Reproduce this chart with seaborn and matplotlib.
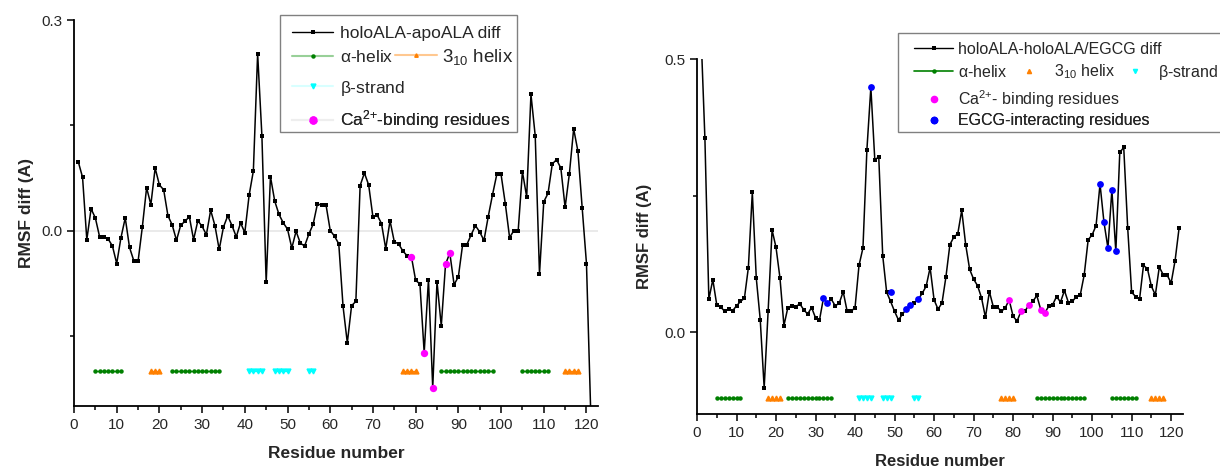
import numpy as np
import pandas as pd
import matplotlib
matplotlib.use('Agg')
import matplotlib.pyplot as plt
from matplotlib.lines import Line2D
from matplotlib.patches import Rectangle
from matplotlib.ticker import MultipleLocator, FormatStrFormatter
import seaborn as sns

# RMSF differences per residue
apo_diff = [0.098, 0.076, -0.013, 0.031, 0.018, -0.009, -0.009, -0.012, -0.022, -0.047,
            -0.010, 0.018, -0.024, -0.043, -0.044, 0.005, 0.061, 0.037, 0.089, 0.065,
            0.058, 0.021, 0.008, -0.014, 0.008, 0.013, 0.020, -0.013, 0.014, 0.006,
            -0.006, 0.029, 0.007, -0.027, 0.005, 0.021, 0.007, -0.009, 0.011, -0.003,
            0.050, 0.085, 0.252, 0.135, -0.074, 0.077, 0.042, 0.023, 0.011, 0.002,
            -0.025, -0.001, -0.018, -0.022, -0.005, 0.009, 0.038, 0.036, 0.037, 0.000,
            -0.008, -0.019, -0.108, -0.160, -0.107, -0.101, 0.064, 0.082, 0.065, 0.019,
            0.022, 0.010, -0.026, 0.014, -0.016, -0.019, -0.029, -0.036, -0.037, -0.071,
            -0.076, -0.174, -0.070, -0.224, -0.073, -0.136, -0.048, -0.032, -0.077, -0.066,
            -0.020, -0.020, -0.006, 0.007, -0.002, -0.014, 0.020, 0.051, 0.080, 0.080,
            0.038, -0.010, 0.000, -0.001, 0.084, 0.048, 0.194, 0.135, -0.062, 0.041,
            0.053, 0.095, 0.101, 0.089, 0.033, 0.081, 0.145, 0.113, 0.032, -0.047,
            -0.260]
egcg_diff = [0.550, 0.355, 0.060, 0.096, 0.050, 0.046, 0.038, 0.042, 0.039, 0.048,
             0.056, 0.062, 0.118, 0.256, 0.099, 0.023, -0.102, 0.038, 0.187, 0.155,
             0.099, 0.012, 0.045, 0.048, 0.046, 0.052, 0.041, 0.033, 0.045, 0.026,
             0.022, 0.062, 0.053, 0.060, 0.048, 0.053, 0.074, 0.038, 0.038, 0.045,
             0.122, 0.154, 0.334, 0.448, 0.315, 0.321, 0.140, 0.073, 0.056, 0.038,
             0.022, 0.033, 0.042, 0.049, 0.054, 0.060, 0.071, 0.084, 0.118, 0.059,
             0.042, 0.053, 0.101, 0.160, 0.174, 0.180, 0.223, 0.160, 0.115, 0.097,
             0.085, 0.063, 0.027, 0.074, 0.046, 0.046, 0.038, 0.044, 0.059, 0.029,
             0.020, 0.038, 0.038, 0.050, 0.056, 0.067, 0.041, 0.035, 0.047, 0.050,
             0.065, 0.055, 0.076, 0.054, 0.056, 0.065, 0.068, 0.105, 0.169, 0.178,
             0.195, 0.271, 0.201, 0.154, 0.260, 0.148, 0.329, 0.338, 0.191, 0.073,
             0.065, 0.060, 0.122, 0.116, 0.084, 0.068, 0.119, 0.105, 0.104, 0.090,
             0.131, 0.190]

# secondary structure (residue ranges)
helix_a = [(5, 11), (23, 34), (86, 98), (105, 111)]
helix_310_left = [(18, 20), (77, 80), (115, 118)]
helix_310_right = [(18, 21), (77, 80), (115, 118)]
strand_b = [(41, 44), (47, 50), (55, 56)]
strand_b_right = [(41, 44), (47, 49), (55, 56)]
ss_level_left = -0.20
ss_level_right = -0.121

ca_res = [79, 82, 84, 87, 88]
egcg_res = [32, 33, 44, 49, 53, 54, 56, 102, 103, 104, 105, 106]
egcg_vals = [0.062, 0.053, 0.448, 0.073, 0.042, 0.049, 0.060, 0.271, 0.201, 0.154, 0.260, 0.148]

sns.set_style('ticks')
plt.rcParams['font.family'] = ['Liberation Sans', 'DejaVu Sans']
plt.rcParams['mathtext.fontset'] = 'custom'
plt.rcParams['mathtext.rm'] = 'Liberation Sans'
plt.rcParams['mathtext.it'] = 'Liberation Sans'

GREEN = '#008000'
ORANGE = '#ff8000'
CYAN = '#00ffff'
MAGENTA = '#ff00ff'
BLUE = '#0000ff'
W, H = 1220, 468

df_l = pd.DataFrame({'res': np.arange(1, len(apo_diff) + 1), 'diff': apo_diff})
df_r = pd.DataFrame({'res': np.arange(1, len(egcg_diff) + 1), 'diff': egcg_diff})

fig = plt.figure(figsize=(W / 100, H / 100), dpi=100)
ax1 = fig.add_axes([74 / W, 62 / H, 524 / W, 386 / H])
ax2 = fig.add_axes([697 / W, 54 / H, 486 / W, 355 / H])


def ss_segments(ax, ranges, level, color, marker, ms, line):
    for a, b in ranges:
        xs = np.arange(a, b + 1)
        ax.plot(xs, np.full(len(xs), level), color=color, marker=marker, ms=ms,
                lw=1.0 if line else 0, zorder=3)


# left panel
ax1.axhline(0, color='#e6e6e6', lw=1.2, zorder=0)
sns.lineplot(data=df_l, x='res', y='diff', ax=ax1, color='black', lw=1.1,
             marker='s', markersize=2.5, markeredgewidth=0, zorder=4)
ss_segments(ax1, helix_a, ss_level_left, GREEN, 'o', 2.2, True)
ss_segments(ax1, helix_310_left, ss_level_left, ORANGE, '^', 3.5, True)
ss_segments(ax1, strand_b, ss_level_left, CYAN, 'v', 3.5, True)
ca_l = df_l[df_l['res'].isin(ca_res)]
sns.scatterplot(data=ca_l, x='res', y='diff', ax=ax1, color=MAGENTA, s=28,
                linewidth=0, zorder=5)
ax1.set_xlim(0, 122.7)
ax1.set_ylim(-0.25, 0.3)
ax1.yaxis.set_major_locator(MultipleLocator(0.3))
ax1.yaxis.set_minor_locator(MultipleLocator(0.15))

# right panel
sns.lineplot(data=df_r, x='res', y='diff', ax=ax2, color='black', lw=1.1,
             marker='s', markersize=2.5, markeredgewidth=0, zorder=4)
ss_segments(ax2, helix_a, ss_level_right, GREEN, 'o', 2.2, True)
ss_segments(ax2, helix_310_right, ss_level_right, ORANGE, '^', 3.5, False)
ss_segments(ax2, strand_b_right, ss_level_right, CYAN, 'v', 3.5, False)
ca_r = df_r[df_r['res'].isin(ca_res)]
sns.scatterplot(data=ca_r, x='res', y='diff', ax=ax2, color=MAGENTA, s=24,
                linewidth=0, zorder=5)
sns.scatterplot(x=egcg_res, y=egcg_vals, ax=ax2, color=BLUE, s=24,
                linewidth=0, zorder=5)
ax2.set_xlim(0, 123)
ax2.set_ylim(-0.15, 0.5)
ax2.yaxis.set_major_locator(MultipleLocator(0.5))
ax2.yaxis.set_minor_locator(MultipleLocator(0.25))

for ax, lfs, ypad in ((ax1, 12.5, 5), (ax2, 12, 9)):
    sns.despine(ax=ax)
    for s in ('left', 'bottom'):
        ax.spines[s].set_linewidth(1.3)
        ax.spines[s].set_color('black')
    ax.xaxis.set_major_locator(MultipleLocator(10))
    ax.xaxis.set_minor_locator(MultipleLocator(5))
    ax.yaxis.set_major_formatter(FormatStrFormatter('%.1f'))
    ax.tick_params(which='major', direction='out', length=5, width=1.1, labelsize=11, color='black')
    ax.tick_params(which='minor', direction='out', length=3, width=1.1, color='black')
    ax.set_xlabel('Residue number', fontsize=lfs, fontweight='bold', labelpad=10)
    ax.set_ylabel('RMSF diff (A)', fontsize=lfs, fontweight='bold', labelpad=ypad)
    ax.grid(False)


# legends: one row entry at a time, positioned in figure pixels
def legend_row(ax, handle, label, hx, y, hlen, gap, fs):
    fs_px = fs * 100 / 72
    leg = ax.legend([handle], [label], loc='center left',
                    bbox_to_anchor=(hx / W, 1 - y / H), bbox_transform=fig.transFigure,
                    frameon=False, fontsize=fs, handlelength=hlen / fs_px,
                    handletextpad=gap / fs_px, borderpad=0, borderaxespad=0)
    ax.add_artist(leg)


def legend_frame(ax, x0, y0, x1, y1):
    rect = Rectangle((x0 / W, 1 - y1 / H), (x1 - x0) / W, (y1 - y0) / H,
                     transform=fig.transFigure, facecolor='white', edgecolor='#808080',
                     lw=1.0, clip_on=False, zorder=4.6)
    ax.add_artist(rect)


h_diff = Line2D([], [], color='black', lw=1, marker='s', ms=2.5, mew=0)

legend_frame(ax1, 280, 15, 517, 131.5)
fs1 = 12.5
legend_row(ax1, h_diff, 'holoALA-apoALA diff', 291.7, 33, 41.7, 6.3, fs1)
legend_row(ax1, Line2D([], [], color='#98d098', lw=1.5, marker='o', ms=2.2, mfc=GREEN, mec=GREEN),
           r'$\alpha$-helix', 291.7, 57, 41.7, 6.3, fs1)
legend_row(ax1, Line2D([], [], color='#ffc890', lw=1.5, marker='^', ms=2.5, mfc=ORANGE, mec=ORANGE),
           r'3$_{10}$ helix', 395, 57, 41.7, 5.6, 13.5)
legend_row(ax1, Line2D([], [], color='#d8ffff', lw=1.5, marker='v', ms=3.5, mfc=CYAN, mec=CYAN),
           r'$\beta$-strand', 291.7, 88, 41.7, 6.3, fs1)
legend_row(ax1, Line2D([], [], color='#eeeeee', lw=1.5, marker='o', ms=5, mfc=MAGENTA, mec=MAGENTA),
           r'Ca$^{2{+}}$-binding residues', 291.7, 120, 41.7, 6.3, fs1)

legend_frame(ax2, 898, 33, 1230, 131.5)
fs2 = 11.5
legend_row(ax2, h_diff, 'holoALA-holoALA/EGCG diff', 914, 49, 39, 5, fs2)
legend_row(ax2, Line2D([], [], color=GREEN, lw=1.2, marker='o', ms=2.2, mfc=GREEN, mec=GREEN),
           r'$\alpha$-helix', 914, 72, 39, 5, fs2)
legend_row(ax2, Line2D([], [], lw=0, marker='^', ms=3, mfc=ORANGE, mec=ORANGE),
           r'3$_{10}$ helix', 1014, 72, 30, 10, fs2)
legend_row(ax2, Line2D([], [], lw=0, marker='v', ms=3, mfc=CYAN, mec=CYAN),
           r'$\beta$-strand', 1120, 72, 30, 8, fs2)
legend_row(ax2, Line2D([], [], lw=0, marker='o', ms=4.5, mfc=MAGENTA, mec=MAGENTA),
           r'Ca$^{2{+}}$- binding residues', 914, 99, 39, 5, fs2)
legend_row(ax2, Line2D([], [], lw=0, marker='o', ms=4.5, mfc=BLUE, mec=BLUE),
           'EGCG-interacting residues', 914, 121, 39, 5, fs2)

fig.savefig('out.png', dpi=100)
